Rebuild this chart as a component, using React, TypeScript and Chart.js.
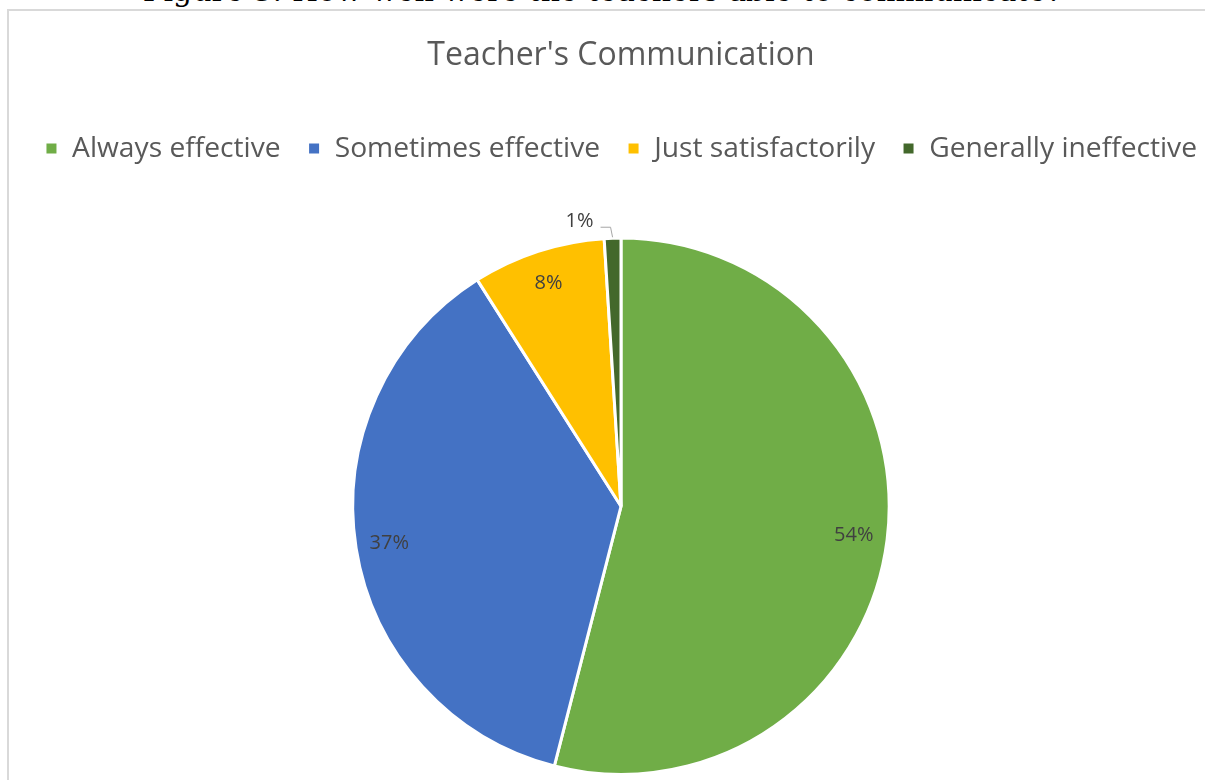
import React, { useEffect, useRef } from "react";
import { Chart, registerables } from "chart.js";

Chart.register(...registerables);

const caption = "Figure 3: How well were the teachers able to communicate?";
const chartTitle = "Teacher's Communication";
const categories = ["Always effective", "Sometimes effective", "Just satisfactorily", "Generally ineffective"];
const percentages = [54, 37, 8, 1];
const sliceColors = ["#70AD47", "#4472C4", "#FFC000", "#43682B"];

const FONT = "'Open Sans', 'Liberation Sans', sans-serif";

const legendGapPlugin = {
  id: "legendGap",
  beforeInit(chart: any) {
    const legend = chart.legend;
    if (!legend) return;
    const origFit = legend.fit;
    legend.fit = function () {
      origFit.call(this);
      this.height += 64;
    };
  },
};

const labelPlugin = {
  id: "sliceLabels",
  afterDatasetsDraw(chart: any) {
    const ctx = chart.ctx;
    const meta = chart.getDatasetMeta(0);
    ctx.save();
    ctx.font = `20px ${FONT}`;
    ctx.fillStyle = "#404040";
    ctx.textAlign = "center";
    ctx.textBaseline = "middle";
    meta.data.forEach((arc: any, i: number) => {
      const { x, y, startAngle, endAngle, outerRadius } = arc.getProps(
        ["x", "y", "startAngle", "endAngle", "outerRadius"],
        true
      );
      const mid = (startAngle + endAngle) / 2;
      const text = percentages[i] + "%";
      if (percentages[i] >= 5) {
        const r = outerRadius * 0.875;
        ctx.fillText(text, x + Math.cos(mid) * r, y + Math.sin(mid) * r);
      } else {
        const ex = x + Math.cos(mid) * outerRadius;
        const ey = y + Math.sin(mid) * outerRadius;
        const ky = ey - 11;
        ctx.strokeStyle = "#A6A6A6";
        ctx.lineWidth = 1;
        ctx.beginPath();
        ctx.moveTo(ex, ey - 1);
        ctx.lineTo(ex - 2, ky);
        ctx.lineTo(ex - 12, ky);
        ctx.stroke();
        ctx.fillText(text, ex - 33, ey - 17);
      }
    });
    ctx.restore();
  },
};

export default function App() {
  const ref = useRef<HTMLCanvasElement>(null);
  useEffect(() => {
    document.documentElement.style.overflow = "hidden";
    document.body.style.margin = "0";
    if (!ref.current) return;
    const chart = new Chart(ref.current, {
      type: "pie",
      data: {
        labels: categories,
        datasets: [
          {
            data: percentages,
            backgroundColor: sliceColors,
            borderColor: "#FFFFFF",
            borderWidth: 3,
          },
        ],
      },
      options: {
        animation: false,
        responsive: false,
        maintainAspectRatio: false,
        layout: { padding: { top: 0, bottom: 15, left: 0, right: 0 } },
        plugins: {
          title: {
            display: true,
            text: chartTitle,
            color: "#595959",
            font: { family: FONT, size: 32, weight: "normal" },
            padding: { top: 26, bottom: 32 },
          },
          legend: {
            display: true,
            position: "top",
            labels: {
              color: "#595959",
              font: { family: FONT, size: 28.2 },
              boxWidth: 13,
              boxHeight: 13,
              padding: 27,
            },
          },
          tooltip: { enabled: false },
        },
      },
      plugins: [legendGapPlugin, labelPlugin],
    });
    return () => chart.destroy();
  }, []);

  return (
    <div
      style={{
        position: "fixed",
        left: 0,
        top: 0,
        width: 1205,
        height: 780,
        overflow: "hidden",
        background: "#FFFFFF",
      }}
    >
      <div
        style={{
          position: "absolute",
          left: 0,
          width: 1205,
          top: -27,
          textAlign: "center",
          fontFamily: "'DejaVu Serif', serif",
          fontSize: 30,
          lineHeight: "36px",
          color: "#000000",
          whiteSpace: "nowrap",
        }}
      >
        {caption}
      </div>
      <div
        style={{
          position: "absolute",
          left: 7,
          top: 9,
          right: -80,
          bottom: -80,
          borderTop: "2px solid #D9D9D9",
          borderLeft: "2px solid #D9D9D9",
        }}
      >
        <canvas
          ref={ref}
          width={1224}
          height={780}
          style={{ position: "absolute", left: 0, top: 0, width: 1224, height: 780 }}
        />
      </div>
    </div>
  );
}
